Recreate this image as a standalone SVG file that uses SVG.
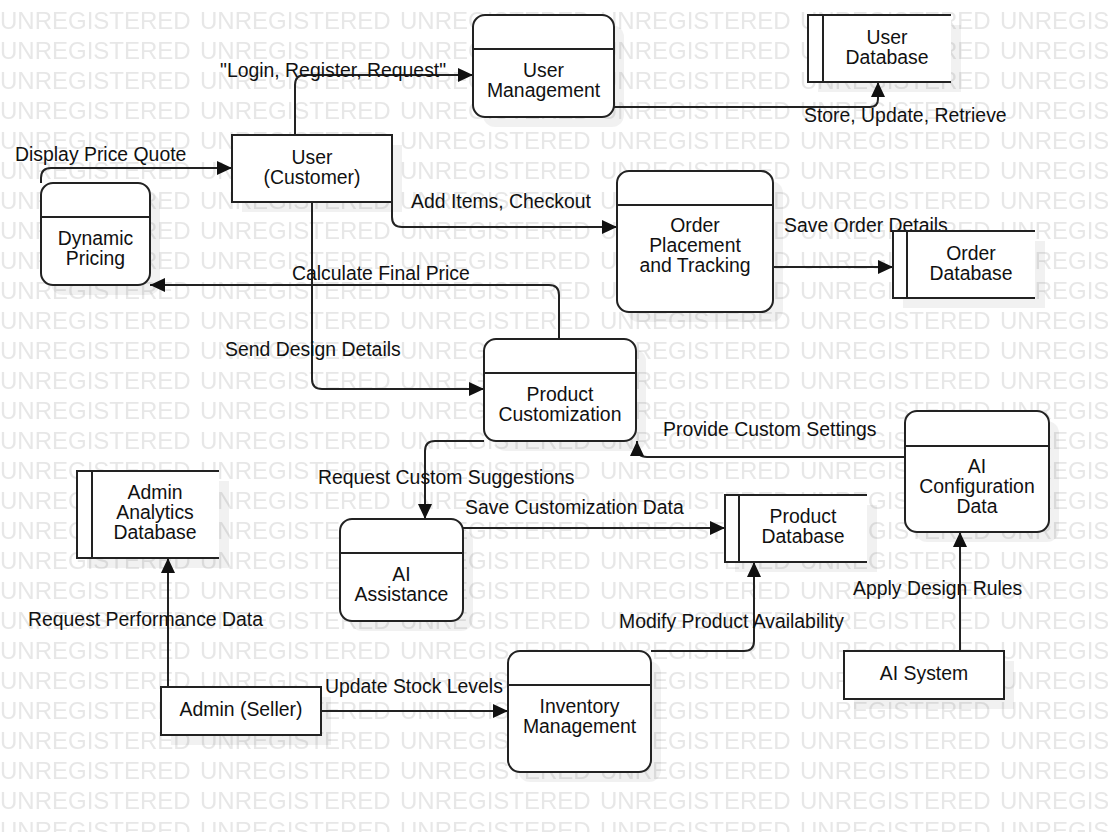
<svg xmlns="http://www.w3.org/2000/svg" width="1108" height="832" viewBox="0 0 1108 832">
<style>
.node{fill:#fff;stroke:#222;stroke-width:2}
.fill{fill:#fff;stroke:none}
.edge{fill:none;stroke:#222;stroke-width:2}
.shadow{fill:#000;fill-opacity:0.055}
.conn{fill:none;stroke:#222;stroke-width:2;marker-end:url(#arrow)}
.t{font-family:"Liberation Sans",Arial,sans-serif;font-size:19.4px;fill:#111}
.c{text-anchor:middle}
.wm{font-family:"Liberation Sans",Arial,sans-serif;font-size:24px;fill:#e7e7e7}
</style>
<defs>
<marker id="arrow" markerWidth="15" markerHeight="14" refX="15" refY="7" orient="auto" markerUnits="userSpaceOnUse">
<path d="M0,0 L15,7 L0,14 Z" fill="#111"/>
</marker>
<pattern id="wmp" x="0" y="0" width="200" height="30" patternUnits="userSpaceOnUse">
<text class="wm" x="0" y="29">UNREGISTERED</text>
</pattern>
</defs>
<rect x="0" y="0" width="1108" height="832" fill="#fff"/>
<rect id="watermark" x="0" y="0" width="1108" height="832" fill="url(#wmp)"/>

<g id="shadows">
<rect class="shadow" x="242" y="145" width="160" height="67"/>
<rect class="shadow" x="483" y="25" width="141" height="102" rx="12"/>
<rect class="shadow" x="818" y="25" width="143" height="67"/>
<rect class="shadow" x="627" y="181" width="156" height="141" rx="12"/>
<rect class="shadow" x="903" y="241" width="142" height="67"/>
<rect class="shadow" x="51" y="193" width="109" height="102" rx="12"/>
<rect class="shadow" x="494" y="349" width="152" height="102" rx="12"/>
<rect class="shadow" x="915" y="421" width="144" height="121" rx="12"/>
<rect class="shadow" x="854" y="661" width="160" height="48"/>
<rect class="shadow" x="735" y="505" width="142" height="67"/>
<rect class="shadow" x="350" y="529" width="123" height="102" rx="12"/>
<rect class="shadow" x="518" y="661" width="143" height="121" rx="12"/>
<rect class="shadow" x="171" y="697" width="160" height="48"/>
<rect class="shadow" x="87" y="481" width="142" height="87"/>
</g>

<g id="connectors">
<path class="conn" d="M295,135 V85 Q295,75 305,75 H473"/>
<path class="conn" d="M614,107 H870 Q878,107 878,99 V82"/>
<path class="conn" d="M41,183 V178 Q41,168 51,168 H232"/>
<path class="conn" d="M392,202 V217 Q392,227 402,227 H617"/>
<path class="conn" d="M773,267 H893"/>
<path class="conn" d="M559,339 V295 Q559,285 549,285 H150"/>
<path class="conn" d="M312,202 V379 Q312,389 322,389 H484"/>
<path class="conn" d="M905,457 H647 Q637,457 637,447 V441"/>
<path class="conn" d="M484,441 H435 Q425,441 425,451 V519"/>
<path class="conn" d="M463,528 H725"/>
<path class="conn" d="M960,651 V532"/>
<path class="conn" d="M651,651 H744 Q754,651 754,641 V562"/>
<path class="conn" d="M168,687 V558"/>
<path class="conn" d="M321,711 H508"/>
<g id="labels">
<text class="t" x="220" y="77">"Login, Register, Request"</text>
<text class="t" x="804" y="122">Store, Update, Retrieve</text>
<text class="t" x="15" y="161">Display Price Quote</text>
<text class="t" x="411" y="208">Add Items, Checkout</text>
<text class="t" x="784" y="232">Save Order Details</text>
<text class="t" x="292" y="280">Calculate Final Price</text>
<text class="t" x="225" y="356">Send Design Details</text>
<text class="t" x="663" y="436">Provide Custom Settings</text>
<text class="t" x="318" y="484">Request Custom Suggestions</text>
<text class="t" x="465" y="514">Save Customization Data</text>
<text class="t" x="853" y="595">Apply Design Rules</text>
<text class="t" x="619" y="628">Modify Product Availability</text>
<text class="t" x="28" y="626">Request Performance Data</text>
<text class="t" x="325" y="693">Update Stock Levels</text>
</g>
</g>

<g id="user-customer">
<rect class="node" x="232" y="135" width="160" height="67"/>
<text class="t c" x="312" y="164">User<tspan x="312" dy="20">(Customer)</tspan></text>
</g>

<g id="user-management">
<rect class="node" x="473" y="15" width="141" height="102" rx="12"/>
<line class="edge" x1="473" y1="49" x2="614" y2="49"/>
<text class="t c" x="543.5" y="77">User<tspan x="543.5" dy="20">Management</tspan></text>
</g>

<g id="user-database">
<rect class="fill" x="808" y="15" width="143" height="67"/>
<path class="edge" d="M951,15 H808 V82 H951 M823,15 V82"/>
<text class="t c" x="887" y="44">User<tspan x="887" dy="20">Database</tspan></text>
</g>

<g id="order-placement">
<rect class="node" x="617" y="171" width="156" height="141" rx="12"/>
<line class="edge" x1="617" y1="205" x2="773" y2="205"/>
<text class="t c" x="695" y="232">Order<tspan x="695" dy="20">Placement</tspan><tspan x="695" dy="20">and Tracking</tspan></text>
</g>

<g id="order-database">
<rect class="fill" x="893" y="231" width="142" height="67"/>
<path class="edge" d="M1035,231 H893 V298 H1035 M907,231 V298"/>
<text class="t c" x="971" y="260">Order<tspan x="971" dy="20">Database</tspan></text>
</g>

<g id="dynamic-pricing">
<rect class="node" x="41" y="183" width="109" height="102" rx="12"/>
<line class="edge" x1="41" y1="217" x2="150" y2="217"/>
<text class="t c" x="95.5" y="245">Dynamic<tspan x="95.5" dy="20">Pricing</tspan></text>
</g>

<g id="product-customization">
<rect class="node" x="484" y="339" width="152" height="102" rx="12"/>
<line class="edge" x1="484" y1="373" x2="636" y2="373"/>
<text class="t c" x="560" y="401">Product<tspan x="560" dy="20">Customization</tspan></text>
</g>

<g id="ai-configuration-data">
<rect class="node" x="905" y="411" width="144" height="121" rx="12"/>
<line class="edge" x1="905" y1="446" x2="1049" y2="446"/>
<text class="t c" x="977" y="473">AI<tspan x="977" dy="20">Configuration</tspan><tspan x="977" dy="20">Data</tspan></text>
</g>

<g id="ai-system">
<rect class="node" x="844" y="651" width="160" height="48"/>
<text class="t c" x="924" y="680">AI System</text>
</g>

<g id="product-database">
<rect class="fill" x="725" y="495" width="142" height="67"/>
<path class="edge" d="M867,495 H725 V562 H867 M739,495 V562"/>
<text class="t c" x="803" y="523">Product<tspan x="803" dy="20">Database</tspan></text>
</g>

<g id="ai-assistance">
<rect class="node" x="340" y="519" width="123" height="102" rx="12"/>
<line class="edge" x1="340" y1="553" x2="463" y2="553"/>
<text class="t c" x="401.5" y="581">AI<tspan x="401.5" dy="20">Assistance</tspan></text>
</g>

<g id="inventory-management">
<rect class="node" x="508" y="651" width="143" height="121" rx="12"/>
<line class="edge" x1="508" y1="685" x2="651" y2="685"/>
<text class="t c" x="579.5" y="713">Inventory<tspan x="579.5" dy="20">Management</tspan></text>
</g>

<g id="admin-seller">
<rect class="node" x="161" y="687" width="160" height="48"/>
<text class="t c" x="241" y="716">Admin (Seller)</text>
</g>

<g id="admin-analytics-database">
<rect class="fill" x="77" y="471" width="142" height="87"/>
<path class="edge" d="M219,471 H77 V558 H219 M92,471 V558"/>
<text class="t c" x="155" y="499">Admin<tspan x="155" dy="20">Analytics</tspan><tspan x="155" dy="20">Database</tspan></text>
</g>
</svg>
